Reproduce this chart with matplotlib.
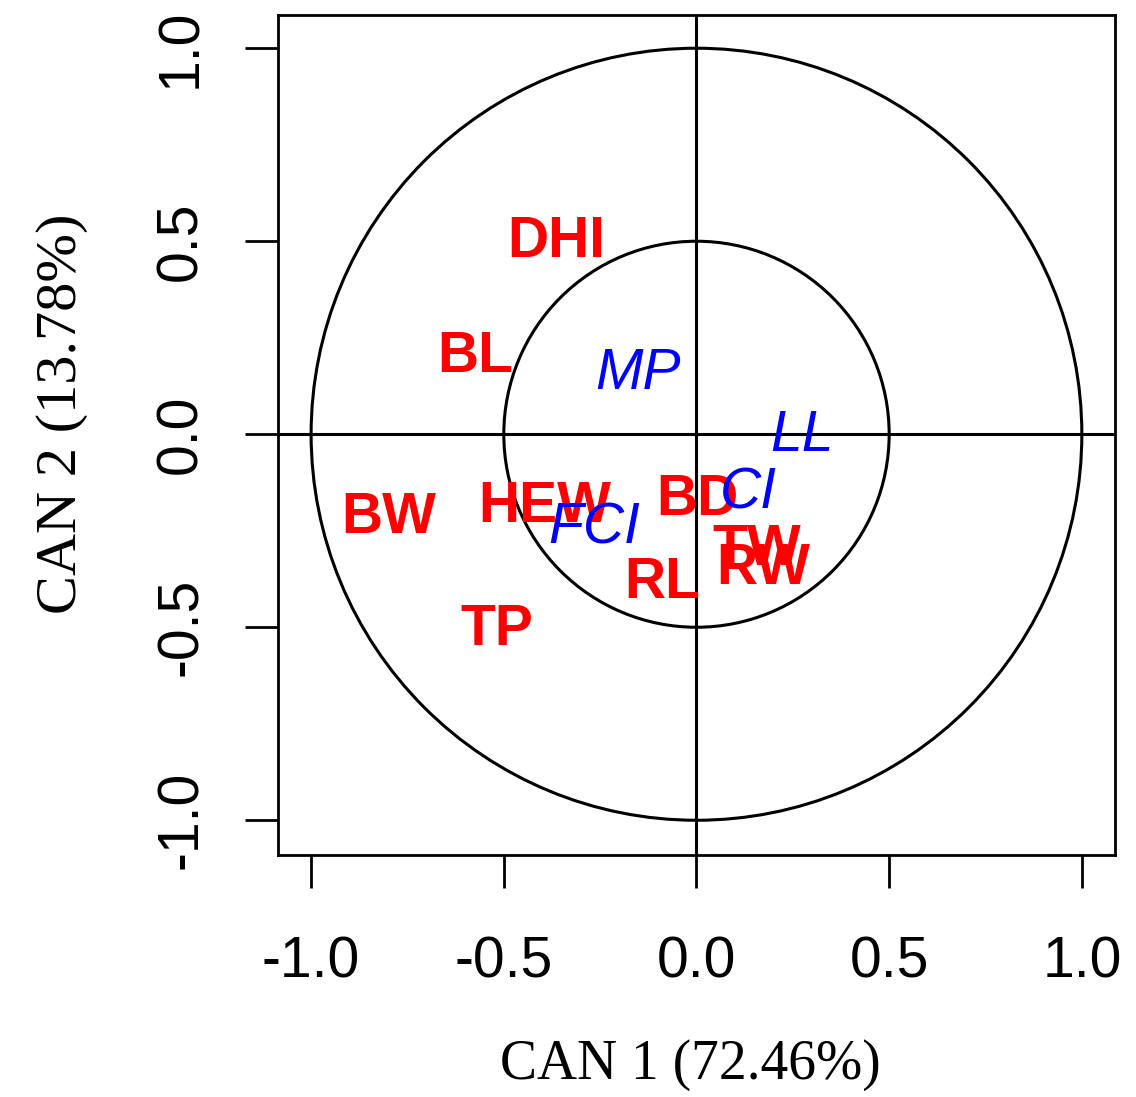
#!/usr/bin/env python3

import matplotlib
matplotlib.use("Agg")
import matplotlib.pyplot as plt
from matplotlib.ticker import FormatStrFormatter
from matplotlib.patches import Circle

plt.rcParams['axes.unicode_minus'] = False

# trait loadings (red, bold)
traits = ["DHI", "BL", "BW", "HEW", "BD", "TW", "RW", "RL", "TP"]
trait_x = [-0.363, -0.573, -0.799, -0.394, 0.003, 0.155, 0.172, -0.088, -0.519]
trait_y = [0.513, 0.215, -0.202, -0.174, -0.155, -0.285, -0.334, -0.370, -0.492]

# index loadings (blue, italic)
indices = ["MP", "LL", "CI", "FCI"]
index_x = [-0.153, 0.275, 0.135, -0.265]
index_y = [0.171, 0.010, -0.137, -0.228]

ticks = [-1.0, -0.5, 0.0, 0.5, 1.0]
radii = [1.0, 0.5]

fig = plt.figure(figsize=(11.36, 10.97), dpi=100)
ax = fig.add_axes([0.2447, 0.2206, 0.7368, 0.7657])

# circles of correlation
for r in radii:
    ax.add_patch(Circle((0, 0), r, fill=False, color='black', lw=2.2))
ax.axhline(0, color='black', lw=2.2)
ax.axvline(0, color='black', lw=2.2)

for name, x, y in zip(traits, trait_x, trait_y):
    ax.text(x, y, name, color='red', fontsize=41, fontweight='bold',
            family='Liberation Sans', ha='center', va='center_baseline')
for name, x, y in zip(indices, index_x, index_y):
    ax.text(x, y, name, color='blue', fontsize=41, fontstyle='italic',
            family='Liberation Sans', ha='center', va='center_baseline')

ax.set_xlim(-1.086, 1.086)
ax.set_ylim(-1.09, 1.086)
ax.set_xticks(ticks)
ax.set_yticks(ticks)
ax.xaxis.set_major_formatter(FormatStrFormatter('%.1f'))
ax.yaxis.set_major_formatter(FormatStrFormatter('%.1f'))
ax.tick_params(length=24, width=2.0, labelsize=41)
ax.tick_params(axis='x', pad=34)
ax.tick_params(axis='y', pad=26)
for lab in ax.get_xticklabels() + ax.get_yticklabels():
    lab.set_family('Liberation Sans')
for lab in ax.get_yticklabels():
    lab.set_rotation(90)
    lab.set_va('center')
for s in ax.spines.values():
    s.set_linewidth(2.0)

ax.set_xlabel("CAN 1 (72.46%)", family='Liberation Serif', fontsize=40, va='center')
ax.set_ylabel("CAN 2 (13.78%)", family='Liberation Serif', fontsize=42, va='center')
ax.xaxis.set_label_coords(0.493, -0.25)
ax.yaxis.set_label_coords(-0.258, 0.525)

fig.savefig("out.png", dpi=100)
